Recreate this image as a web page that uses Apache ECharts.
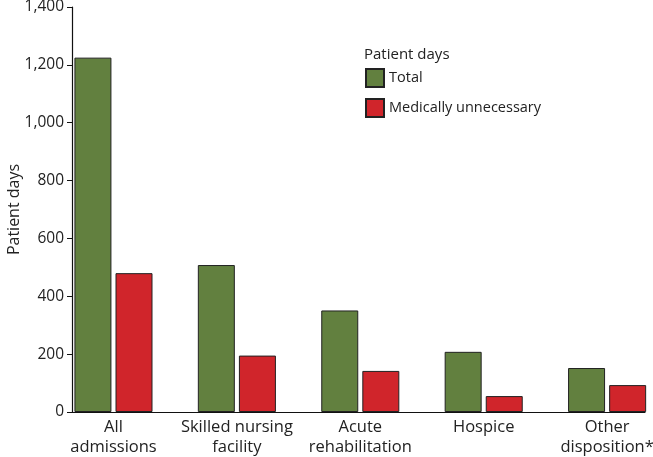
<!DOCTYPE html>
<html><head><meta charset="utf-8">
<script src="https://cdn.jsdelivr.net/npm/echarts@6/dist/echarts.min.js"></script>
<style>html,body{margin:0;padding:0;background:#fff}#c{width:653px;height:457px}</style>
</head><body><div id="c"></div>
<script>
const categories = ["All\nadmissions", "Skilled nursing\nfacility", "Acute\nrehabilitation", "Hospice", "Other\ndisposition*"];
const totalDays = [1225, 508, 351, 208, 152];
const unnecessaryDays = [480, 195, 142, 55, 93];
const yTicks = [0, 200, 400, 600, 800, 1000, 1200, 1400];
const seriesNames = ["Total", "Medically unnecessary"];

const FONT = '"Open Sans", "Noto Sans", sans-serif';
const chart = echarts.init(document.getElementById('c'), null, {renderer: 'canvas'});
const idx = categories.map((_, i) => i);
chart.setOption({
  animation: false,
  textStyle: {fontFamily: FONT},
  title: {text: 'Patient days', left: 364, top: 47, padding: 0,
    textStyle: {fontFamily: FONT, fontSize: 15, fontWeight: 'normal', color: '#222'}},
  legend: {orient: 'vertical', left: 365, top: 68, padding: 0, itemWidth: 18, itemHeight: 18, itemGap: 10,
    icon: 'rect', data: seriesNames,
    textStyle: {fontFamily: FONT, fontSize: 14.5, color: '#222'}},
  grid: {left: 72, right: 8, top: 7, bottom: 45, containLabel: false, outerBoundsMode: 'none'},
  xAxis: {type: 'value', min: -0.336, max: 4.307,
    axisLine: {show: true, onZero: false, lineStyle: {color: '#111', width: 1.2}},
    axisTick: {show: false}, splitLine: {show: false},
    axisLabel: {customValues: idx, formatter: v => categories[Math.round(v)] || '',
      fontFamily: FONT, fontSize: 16.5, color: '#222', lineHeight: 20, margin: 5}},
  yAxis: {type: 'value', min: 0, max: 1400, interval: 200,
    name: 'Patient days', nameLocation: 'middle', nameGap: 50, nameRotate: 90, nameMoveOverlap: false,
    nameTextStyle: {fontFamily: FONT, fontSize: 16, color: '#222'},
    axisLine: {show: true, onZero: false, lineStyle: {color: '#111', width: 1.2}},
    axisTick: {show: true, length: 5, lineStyle: {color: '#111'}},
    splitLine: {show: false},
    axisLabel: {fontFamily: FONT, fontSize: 15.5, color: '#222', margin: 8,
      formatter: v => yTicks.includes(v) ? v.toLocaleString('en-US') : ''}},
  series: [
    {name: seriesNames[0], type: 'bar', barWidth: 37, barGap: '11%',
     data: totalDays.map((v, i) => [i, v]),
     itemStyle: {color: '#62803f', borderColor: '#222', borderWidth: 1}},
    {name: seriesNames[1], type: 'bar', barWidth: 37, barGap: '11%',
     data: unnecessaryDays.map((v, i) => [i, v]),
     itemStyle: {color: '#d0252b', borderColor: '#222', borderWidth: 1}}
  ]
});
</script></body></html>
